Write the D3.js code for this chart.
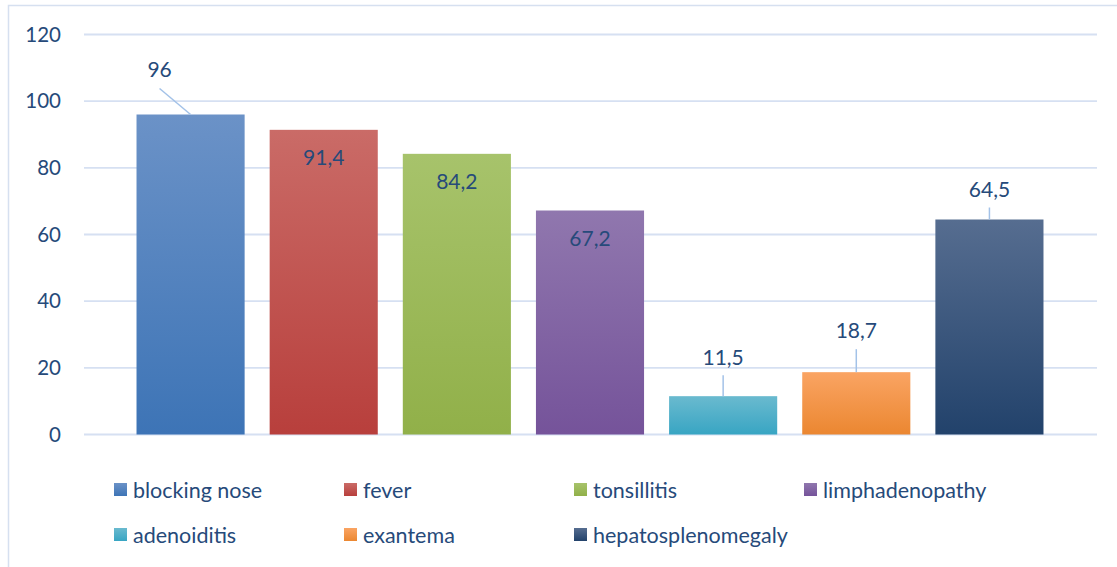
<!DOCTYPE html>
<html lang="en">
<head>
    <meta charset="UTF-8">
    <title>Symptoms bar chart</title>
    <script src="https://d3js.org/d3.v7.min.js"></script>
    <style>
        body { margin: 0; background: #fff; }
        text {
            font-family: Lato, "Open Sans", sans-serif;
            fill: #264a7a;
        }
    </style>
</head>
<body>
<svg height="567" width="1117"></svg>

<script>
    const symptoms   = ["blocking nose", "fever", "tonsillitis", "limphadenopathy",
                        "adenoiditis", "exantema", "hepatosplenomegaly"];
    const percents   = [96, 91.4, 84.2, 67.2, 11.5, 18.7, 64.5];
    const valueTexts = ["96", "91,4", "84,2", "67,2", "11,5", "18,7", "64,5"];
    const yTicks     = [0, 20, 40, 60, 80, 100, 120];

    // gradient colours per bar: [top, bottom]
    const barColors = [
        ["#6b92c7", "#3d74b6"],
        ["#ca6b67", "#b83f3c"],
        ["#a7c36b", "#91b049"],
        ["#9077ae", "#75539a"],
        ["#6abacf", "#38a5c3"],
        ["#faa463", "#eb8731"],
        ["#566d90", "#22426b"]
    ];

    // where each value label sits: inside the bar or above it with a leader
    const labelPlace = [
        {mode: "above", dx: -31, dy: -45, leader: [-31, -26]},
        {mode: "inside"},
        {mode: "inside"},
        {mode: "inside"},
        {mode: "above", dx: 0, dy: -39, leader: [0, -21]},
        {mode: "above", dx: 0, dy: -42, leader: [0, -23]},
        {mode: "above", dx: 0, dy: -30, leader: [0, -12]}
    ];

    const svg = d3.select("svg");

    const y = d3.scaleLinear().domain([0, 120]).range([434.5, 34.5]);
    const x = d3.scaleBand()
        .domain(symptoms)
        .range([124, 1056])
        .paddingInner(0.188)
        .paddingOuter(0.094);

    // chart border
    svg.append("rect")
       .attr("x", 8.5).attr("y", 5.5)
       .attr("width", 1200).attr("height", 700)
       .attr("fill", "none")
       .attr("stroke", "#d6e0f0")
       .attr("stroke-width", 1.5);

    const defs = svg.append("defs");
    barColors.forEach(function(c, i) {
        const g = defs.append("linearGradient")
            .attr("id", "grad" + i)
            .attr("x1", 0).attr("y1", 0).attr("x2", 0).attr("y2", 1);
        g.append("stop").attr("offset", "0%").attr("stop-color", c[0]);
        g.append("stop").attr("offset", "100%").attr("stop-color", c[1]);
    });

    // gridlines
    svg.selectAll("line.grid")
       .data(yTicks)
          .join("line").attr("class", "grid")
            .attr("x1", 84).attr("x2", 1097)
            .attr("y1", d => y(d)).attr("y2", d => y(d))
            .attr("stroke", "#d6e0f2")
            .attr("stroke-width", 1.8);

    // y axis labels
    svg.selectAll("text.ytick")
       .data(yTicks)
          .join("text").attr("class", "ytick")
            .attr("x", 61)
            .attr("y", d => y(d))
            .attr("dy", "0.35em")
            .attr("text-anchor", "end")
            .style("font-size", "20.5px")
            .text(d => d);

    const rows = symptoms.map((s, i) => ({name: s, value: percents[i], text: valueTexts[i], i: i}));

    svg.selectAll("rect.bar")
       .data(rows)
          .join("rect").attr("class", "bar")
            .attr("x", d => x(d.name))
            .attr("width", x.bandwidth())
            .attr("y", d => y(d.value))
            .attr("height", d => y(0) - y(d.value))
            .attr("fill", d => "url(#grad" + d.i + ")");

    // leader lines
    svg.selectAll("line.leader")
       .data(rows.filter(d => labelPlace[d.i].mode === "above"))
          .join("line").attr("class", "leader")
            .attr("x1", d => x(d.name) + x.bandwidth() / 2 + labelPlace[d.i].leader[0])
            .attr("y1", d => y(d.value) + labelPlace[d.i].leader[1])
            .attr("x2", d => x(d.name) + x.bandwidth() / 2)
            .attr("y2", d => y(d.value))
            .attr("stroke", "#a3c2e8")
            .attr("stroke-width", 1.5);

    // value labels
    svg.selectAll("text.value")
       .data(rows)
          .join("text").attr("class", "value")
            .attr("x", d => x(d.name) + x.bandwidth() / 2 + (labelPlace[d.i].dx || 0))
            .attr("y", d => y(d.value) + (labelPlace[d.i].mode === "inside" ? 28 : labelPlace[d.i].dy))
            .attr("dy", "0.35em")
            .attr("text-anchor", "middle")
            .style("font-size", "21px")
            .text(d => d.text);

    // legend
    const legend = svg.selectAll("g.legend")
       .data(rows)
          .join("g").attr("class", "legend")
            .attr("transform", d => "translate(" + (114 + (d.i % 4) * 230) + "," + (483 + Math.floor(d.i / 4) * 45) + ")");

    legend.append("rect")
          .attr("width", 13).attr("height", 13)
          .attr("fill", d => "url(#grad" + d.i + ")");

    legend.append("text")
          .attr("x", 19)
          .attr("y", 7)
          .attr("dy", "0.35em")
          .style("font-size", "21.5px")
          .text(d => d.name);
</script>

</body>
</html>
